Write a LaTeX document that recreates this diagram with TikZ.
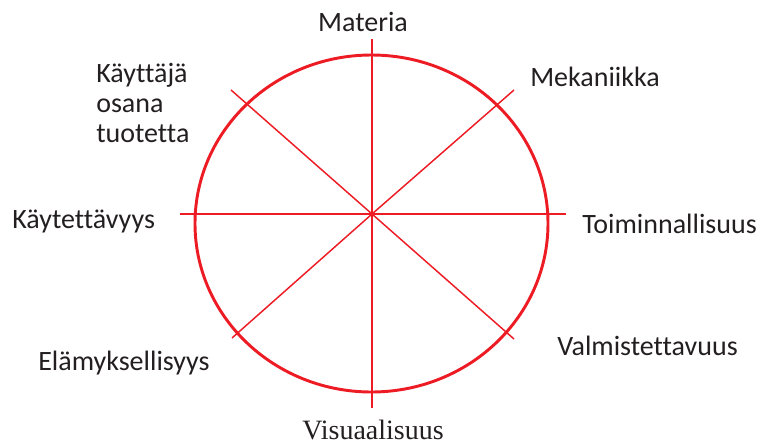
\documentclass[tikz,border=0pt]{standalone}
\usepackage{fontspec}
\setmainfont{Carlito}[Ligatures=NoCommon]
\newfontfamily\visfont{Liberation Serif}
\usepackage{tikz}
\usetikzlibrary{positioning,calc}
\definecolor{wheelred}{RGB}{237,28,36}
\definecolor{labelgray}{RGB}{35,31,32}

\begin{document}
\begin{tikzpicture}[
    x=0.75pt, y=-0.75pt,
    rim/.style={draw=wheelred, line width=2.2pt},
    spoke/.style={draw=wheelred, line width=1.1pt},
    lbl/.style={inner sep=0pt, text=labelgray, font=\fontsize{21}{22.5}\selectfont},
]
    \useasboundingbox (0,0) rectangle (761,444);
    % Outer ring
    \draw[rim] (371.5,223.5) ellipse [x radius=176.5, y radius=168.5];
    % Spokes through the hub
    \coordinate (hub) at (372,214);
    \foreach \a/\b [count=\k] in {{372,39}/{372,408}, {180,214}/{566,214}, {231,90}/{514,339}, {232,338}/{514,90}} {
        \coordinate (p\k) at (\a);
        \coordinate (q\k) at (\b);
        \draw[spoke] (p\k) -- (hub) -- (q\k);
    }
    % Labels
    \node[lbl, anchor=base] (materia) at (363,31) {Materia};
    \node[lbl, anchor=base west] (mekaniikka) at (530,86) {Mekaniikka};
    \node[lbl, anchor=north west, align=left] (kayttaja) at (96,63) {Käyttäjä\\osana\\tuotetta};
    \node[lbl, anchor=base west] (kaytettavyys) at (12,228) {Käytettävyys};
    \node[lbl, anchor=base west] (toiminnallisuus) at (582,233) {Toiminnallisuus};
    \node[lbl, anchor=base west] (valmistettavuus) at (557,355) {Valmistettavuus};
    \node[lbl, anchor=base west] (elamyksellisyys) at (38,370) {Elämyksellisyys};
    \node[lbl, anchor=base, font=\visfont\fontsize{21}{22.5}\selectfont] (visuaalisuus) at (373,439) {Visuaalisuus};
\end{tikzpicture}
\end{document}
